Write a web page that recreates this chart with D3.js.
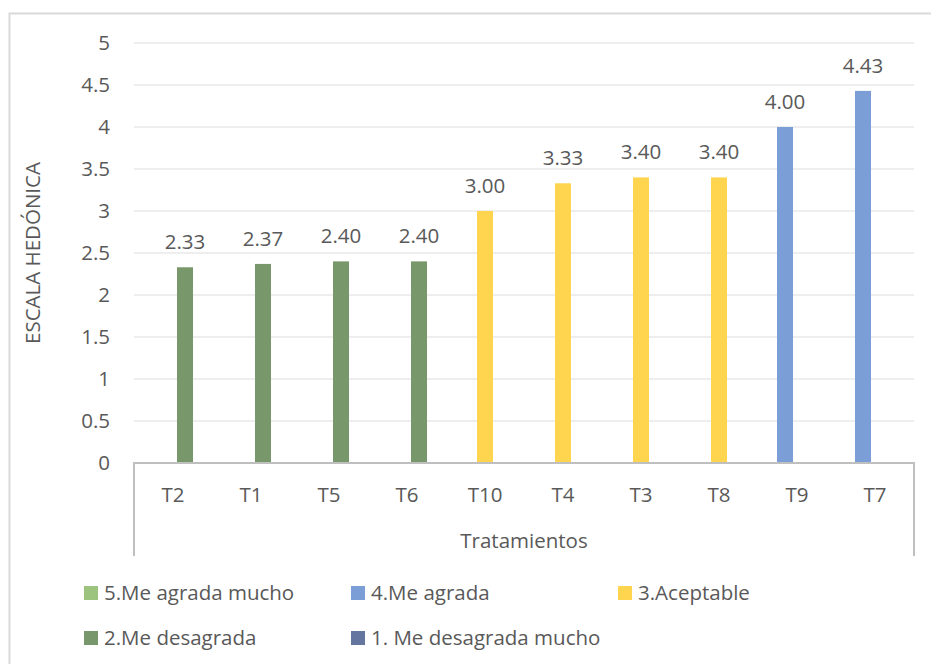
<!DOCTYPE html>
<html>
<head>
<meta charset="utf-8">
<script src="https://cdn.jsdelivr.net/npm/d3@7"></script>
<style>
  body { margin: 0; background: #fff; }
  text { font-family: "Open Sans", "Noto Sans", sans-serif; fill: #595959; }
</style>
</head>
<body>
<svg id="chart" width="931" height="664"></svg>
<script>
// treatments, ordered as in the chart
const categories = ['T2', 'T1', 'T5', 'T6', 'T10', 'T4', 'T3', 'T8', 'T9', 'T7']
const values = [2.33, 2.37, 2.40, 2.40, 3.00, 3.33, 3.40, 3.40, 4.00, 4.43]
// which hedonic class each treatment falls in
const classOf = ['2.Me desagrada', '2.Me desagrada', '2.Me desagrada', '2.Me desagrada',
	'3.Aceptable', '3.Aceptable', '3.Aceptable', '3.Aceptable', '4.Me agrada', '4.Me agrada']
const series = ['5.Me agrada mucho', '4.Me agrada', '3.Aceptable', '2.Me desagrada', '1. Me desagrada mucho']
const seriesColors = ['#9cc47e', '#7b9ed6', '#ffd44f', '#78976a', '#64769f']
const yTicks = [0, 0.5, 1, 1.5, 2, 2.5, 3, 3.5, 4, 4.5, 5]

const data = categories.map((c, i) => ({cat: c, value: values[i], series: classOf[i]}))

const svg = d3.select('#chart')
const mLeft = 134, mRight = 914, mTop = 43, mBottom = 463
const fs = 20.5

// outer frame
svg.append('rect')
	.attr('x', 9.5).attr('y', 13.5)
	.attr('width', 940).attr('height', 700)
	.attr('fill', 'none').attr('stroke', '#d9d9d9').attr('stroke-width', 2)

const x0 = d3.scaleBand().domain(categories).range([mLeft, mRight])
const x1 = d3.scalePoint().domain(series).range([-24, 24])
const y = d3.scaleLinear().domain([0, 5]).range([mBottom, mTop])
const color = d3.scaleOrdinal().domain(series).range(seriesColors)
const barW = 16

// gridlines + y labels
svg.append('g')
	.selectAll('line')
	.data(yTicks.filter(d => d > 0))
	.join('line')
		.attr('x1', mLeft).attr('x2', mRight)
		.attr('y1', d => y(d)).attr('y2', d => y(d))
		.attr('stroke', '#e9e9e9').attr('stroke-width', 1.5)

svg.append('g')
	.attr('text-anchor', 'end')
	.attr('font-size', fs)
	.selectAll('text')
	.data(yTicks)
	.join('text')
		.attr('x', 110)
		.attr('y', d => y(d))
		.attr('dy', '0.35em')
		.text(d => d)

// bars
svg.append('g')
	.selectAll('rect')
	.data(data)
	.join('rect')
		.attr('x', d => x0(d.cat) + x0.bandwidth() / 2 + x1(d.series) - barW / 2)
		.attr('y', d => y(d.value))
		.attr('width', barW)
		.attr('height', d => y(0) - y(d.value))
		.attr('fill', d => color(d.series))

// value labels
svg.append('g')
	.attr('text-anchor', 'middle')
	.attr('font-size', fs)
	.selectAll('text')
	.data(data)
	.join('text')
		.attr('x', d => x0(d.cat) + x0.bandwidth() / 2 + x1(d.series))
		.attr('y', d => y(d.value) - 18)
		.text(d => d.value.toFixed(2))

// category axis box
const axisBottom = 556
svg.append('path')
	.attr('d', `M${mLeft},${axisBottom}V${mBottom}H${mRight}V${axisBottom}`)
	.attr('fill', 'none').attr('stroke', '#bfbfbf').attr('stroke-width', 2)

svg.append('g')
	.attr('text-anchor', 'middle')
	.attr('font-size', fs)
	.selectAll('text')
	.data(categories)
	.join('text')
		.attr('x', d => x0(d) + x0.bandwidth() / 2)
		.attr('y', 502)
		.text(d => d)

svg.append('text')
	.attr('x', (mLeft + mRight) / 2).attr('y', 548)
	.attr('text-anchor', 'middle').attr('font-size', fs)
	.text('Tratamientos')

svg.append('text')
	.attr('transform', `translate(40,${(mTop + mBottom) / 2}) rotate(-90)`)
	.attr('text-anchor', 'middle').attr('font-size', fs)
	.text('ESCALA HEDÓNICA')

// legend
const legendPos = [[84, 593], [351, 593], [618, 593], [84, 638], [351, 638]]
const legend = svg.append('g')
	.selectAll('g')
	.data(series)
	.join('g')
		.attr('transform', (d, i) => `translate(${legendPos[i][0]},${legendPos[i][1]})`)
legend.append('rect')
	.attr('x', 0).attr('y', -7).attr('width', 14).attr('height', 14)
	.attr('fill', d => color(d))
legend.append('text')
	.attr('x', 20).attr('dy', '0.35em').attr('font-size', fs)
	.text(d => d)
</script>
</body>
</html>
